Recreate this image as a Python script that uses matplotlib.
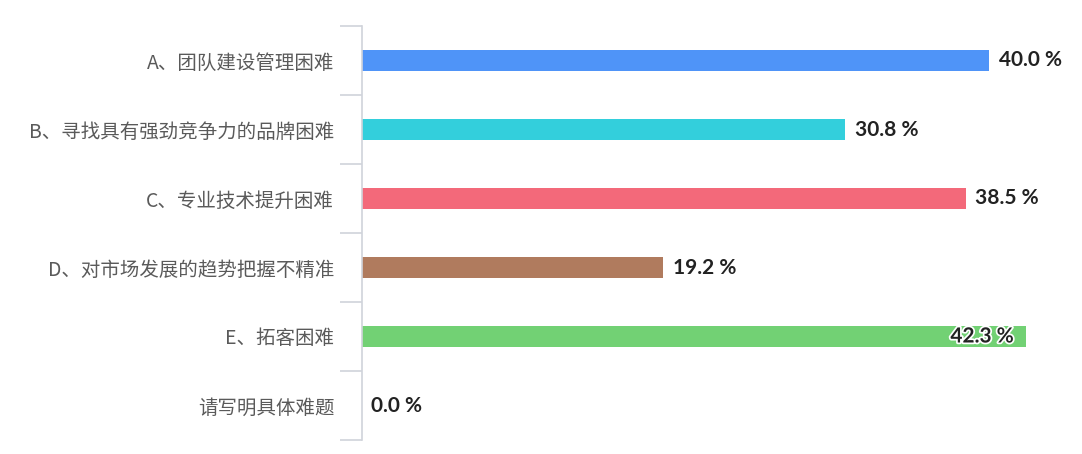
import matplotlib
matplotlib.use("Agg")
import matplotlib.pyplot as plt
import matplotlib.patheffects as pe
import numpy as np

plt.rcParams['font.family'] = ['Noto Sans CJK SC', 'DejaVu Sans']

# data
categories = ['A、团队建设管理困难', 'B、寻找具有强劲竞争力的品牌困难', 'C、专业技术提升困难',
              'D、对市场发展的趋势把握不精准', 'E、拓客困难', '请写明具体难题']
values = [40.0, 30.8, 38.5, 19.2, 42.3, 0.0]
colors = ['#4f94f8', '#33cfdc', '#f3697a', '#b07b5e', '#72d174', '#999999']

fig = plt.figure(figsize=(10.82, 4.54), dpi=100)
ax = fig.add_axes([362 / 1082, 14 / 454, 720 / 1082, 414 / 454])

y = np.arange(len(categories))
ax.barh(y, values, height=0.31, color=colors)

ax.set_xlim(0, 45.9)
ax.set_ylim(len(categories) - 0.5, -0.5)

# category labels without tick marks, boundary ticks as minor
ax.set_yticks(y)
ax.set_yticklabels(categories, fontsize=14, color='#5a5a5a')
ax.tick_params(axis='y', which='major', length=0, pad=20)
ax.set_yticks(np.arange(-0.5, len(categories)), minor=True)
ax.tick_params(axis='y', which='minor', length=16, width=1.2, color='#d0d3da')
ax.set_xticks([])

for s in ['top', 'right', 'bottom']:
    ax.spines[s].set_visible(False)
ax.spines['left'].set_color('#d0d3da')
ax.spines['left'].set_linewidth(1.2)

for i, v in enumerate(values):
    txt = f'{v:.1f} %'
    if v > 41:
        ax.text(v - 0.75, i, txt, va='center', ha='right', fontsize=15, fontweight='bold',
                family=['Lato', 'DejaVu Sans'], color='#222222',
                path_effects=[pe.withStroke(linewidth=2.5, foreground='white')])
    else:
        ax.text(v + 0.6, i, txt, va='center', ha='left', fontsize=15, fontweight='bold',
                family=['Lato', 'DejaVu Sans'], color='#222222')

fig.savefig('out.png', dpi=100)
